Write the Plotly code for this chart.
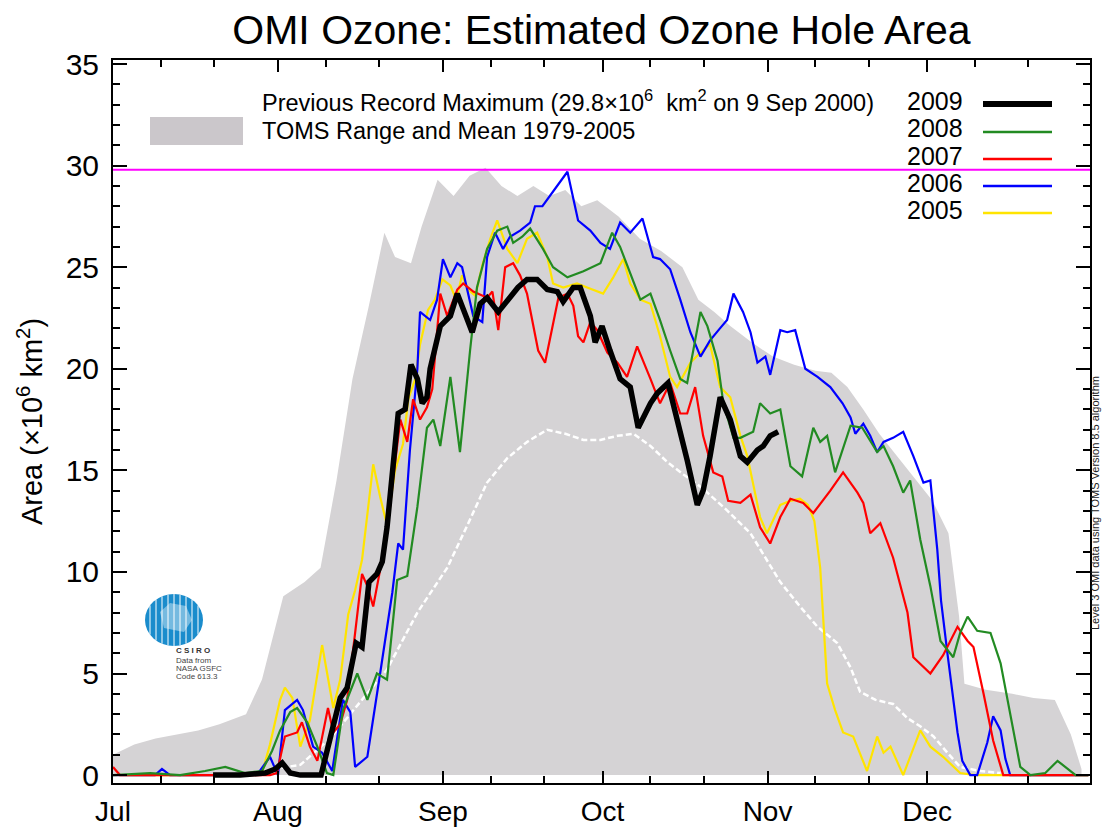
import math
import plotly.graph_objects as go

# ---------------- data (x = days since 1 July, y = area in 10^6 km^2) ----------------
MONTH_LABELS = ["Jul", "Aug", "Sep", "Oct", "Nov", "Dec"]
MONTH_START_DAYS = [0, 31, 62, 92, 123, 153]
MINOR_TICK_DAYS = [9, 19, 40, 50, 71, 81, 101, 111, 132, 142, 162, 172]
RECORD_MAX = 29.8

TOMS_MAX = [(0, 1.0), (4, 1.5), (8, 1.8), (12, 2.0), (16, 2.2), (20, 2.5), (25, 3.0), (28, 4.7),
            (32, 8.8), (36, 9.5), (39, 10.2), (42, 14.5), (45, 19.5), (48, 23.0), (51, 26.7),
            (53, 25.5), (56, 25.2), (58, 27.0), (61, 29.3), (64, 28.5), (67, 29.5), (70, 29.9),
            (73, 29.0), (76, 28.5), (79, 29.0), (82, 28.5), (85, 28.8), (88, 28.0), (91, 28.3),
            (95, 27.5), (99, 26.4), (103, 25.8), (107, 25.0), (110, 23.4), (113, 22.8),
            (116, 22.1), (120, 21.3), (124, 20.6), (128, 20.2), (132, 19.9), (135, 19.8),
            (138, 19.1), (141, 18.0), (144, 16.8), (147, 15.8), (150, 14.8), (154, 13.5),
            (157, 11.9), (159, 7.8), (160, 4.5), (164, 4.2), (169, 4.0), (173, 3.8),
            (177, 3.7), (180, 2.0), (182, 0.3)]

TOMS_MEAN = [(30, 0.3), (35.2, 0.5), (40.8, 1.8), (46.1, 3.5), (51.5, 5.2), (57.2, 8.0),
             (62.8, 10.2), (66.6, 12.3), (70.3, 14.4), (74.1, 15.6), (77.8, 16.4), (81.6, 17.0),
             (85.0, 16.8), (88.4, 16.5), (91.6, 16.5), (94.8, 16.7), (97.8, 16.8), (101.0, 16.2),
             (104.2, 15.4), (107.2, 14.8), (110.4, 14.2), (115.1, 13.1), (119.8, 11.9),
             (122.6, 10.7), (125.4, 9.5), (129.1, 8.3), (132.4, 7.3), (136.1, 6.5), (138.6, 5.3),
             (140.4, 4.1), (143.3, 3.7), (146.6, 3.5), (149.3, 2.8), (151.7, 2.4), (154.2, 1.9),
             (156.8, 1.1), (159.2, 0.4), (163.0, 0.2), (166.8, 0.1)]

Y2005 = [(0, 0), (16.4, 0), (24.8, 0), (28.0, 0.1), (29.5, 1.5), (31.4, 3.7), (32.3, 4.3),
         (33.7, 3.8), (35.2, 1.4), (37.0, 2.7), (39.3, 6.4), (41.4, 3.3), (42.7, 4.7), (44.2, 7.9),
         (45.5, 9.1), (46.8, 10.6), (47.9, 13.0), (48.9, 15.3), (50.2, 13.7), (51.5, 12.3),
         (53.0, 15.0), (54.5, 16.3), (55.5, 18.5), (56.8, 19.5), (57.7, 21.2), (59.2, 22.9),
         (60.5, 23.4), (61.9, 24.4), (63.4, 24.1), (64.5, 23.4), (65.6, 24.6), (66.7, 23.9),
         (68.1, 23.6), (69.4, 25.1), (70.9, 26.4), (72.2, 27.3), (74.1, 25.9), (76.0, 25.2),
         (77.8, 26.4), (79.7, 26.7), (81.6, 25.5), (82.7, 24.2), (84.6, 24.0), (87.2, 24.2),
         (89.1, 24.0), (92.1, 23.7), (94.0, 24.5), (95.9, 25.4), (97.2, 24.2), (99.1, 23.4),
         (101.0, 23.2), (102.8, 21.6), (104.7, 19.6), (106.0, 19.1), (108.5, 20.3),
         (110.4, 20.8), (112.2, 21.2), (114.1, 19.1), (116.0, 18.6), (117.9, 16.7),
         (119.2, 15.7), (121.6, 12.7), (122.9, 11.9), (125.4, 13.3), (127.3, 13.5),
         (129.1, 13.6), (130.6, 13.3), (131.8, 12.5), (132.9, 10.2), (134.2, 4.5), (135.7, 3.2),
         (137.2, 2.1), (139.1, 1.9), (141.7, 0.2), (143.6, 1.9), (144.8, 1.1), (146.1, 1.4),
         (148.5, 0.0), (151.7, 2.2), (153.6, 1.4), (156.0, 0.9), (159.2, 0.1), (162.0, 0),
         (183.3, 0)]

Y2006 = [(0, 0), (7.9, 0), (9.2, 0.3), (10.7, 0), (25.4, 0), (27.3, 0.1), (29.5, 0.9), (31.0, 0),
         (32.3, 3.2), (34.6, 3.7), (35.7, 3.2), (37.6, 1.4), (39.3, 1.1), (41.2, 0.2), (43.2, 3.7),
         (44.6, 3.1), (45.5, 0.4), (47.8, 0.9), (50.2, 5.0), (52.5, 9.0), (53.6, 11.4),
         (54.5, 11.1), (55.8, 16.0), (57.2, 20.0), (57.7, 22.8), (59.6, 22.4), (60.9, 23.4),
         (62.0, 25.4), (63.4, 24.5), (64.7, 25.2), (65.6, 25.0), (66.6, 23.9), (67.7, 22.6),
         (69.4, 22.3), (70.3, 25.5), (71.8, 26.7), (73.3, 25.9), (74.6, 26.5), (76.5, 26.8),
         (78.4, 27.2), (79.3, 28.0), (80.7, 28.0), (82.7, 28.7), (85.4, 29.7), (87.4, 27.3),
         (89.7, 26.8), (91.6, 26.2), (93.4, 25.9), (95.3, 27.2), (97.2, 26.7), (99.5, 27.4),
         (101.5, 25.5), (102.8, 25.4), (104.7, 24.9), (106.6, 23.4), (108.5, 21.8),
         (110.4, 20.6), (112.2, 21.4), (114.1, 22.0), (115.4, 22.4), (116.6, 23.7),
         (118.4, 22.8), (119.8, 21.8), (121.1, 20.3), (122.6, 20.6), (123.5, 19.7),
         (125.4, 21.9), (126.7, 21.8), (128.2, 21.9), (130.1, 20.0), (132.4, 19.6),
         (134.8, 19.1), (137.1, 18.3), (138.6, 17.6), (139.5, 16.8), (141.0, 17.3),
         (142.3, 16.7), (143.6, 15.9), (144.8, 16.4), (146.6, 16.6), (148.5, 16.9),
         (150.4, 15.7), (152.3, 14.4), (153.6, 14.5), (154.9, 11.1), (155.6, 8.6), (156.8, 6.0),
         (157.9, 3.7), (158.7, 2.1), (159.6, 0.7), (161.1, 0), (162.4, 0), (164.3, 1.6),
         (165.4, 2.9), (166.8, 2.2), (167.7, 0.8), (168.6, 0), (183.3, 0)]

Y2007 = [(0, 0.4), (1.3, 0), (16.4, 0), (29.5, 0), (30.8, 0.1), (32.3, 1.9), (34.6, 2.1),
         (35.5, 2.6), (37.0, 1.4), (38.4, 0.7), (40.4, 3.3), (41.4, 2.1), (42.7, 2.5), (44.0, 3.7),
         (45.5, 7.0), (46.8, 9.9), (47.8, 9.3), (48.9, 8.3), (50.2, 10.1), (51.5, 11.9),
         (52.6, 14.5), (54.0, 17.5), (55.3, 16.4), (56.4, 18.5), (57.7, 17.5), (59.0, 18.1),
         (60.0, 19.0), (61.5, 23.7), (62.8, 22.6), (64.7, 23.9), (65.8, 24.2), (67.7, 23.8),
         (70.3, 23.5), (71.3, 23.8), (72.4, 21.9), (73.7, 25.0), (75.2, 25.2), (76.5, 24.6),
         (77.8, 23.7), (78.8, 22.3), (79.9, 20.9), (81.2, 20.3), (82.5, 21.9), (83.7, 23.5),
         (85.4, 23.7), (86.5, 23.1), (87.4, 21.6), (88.4, 21.3), (89.7, 22.3), (91.0, 21.9),
         (92.9, 20.8), (94.8, 20.3), (96.6, 19.6), (98.5, 21.1), (101.0, 19.5), (102.8, 18.3),
         (104.7, 19.3), (106.6, 17.8), (107.9, 17.8), (109.4, 19.1), (110.9, 16.7),
         (112.8, 14.9), (114.5, 14.7), (115.6, 13.5), (117.9, 13.4), (119.8, 13.8),
         (121.6, 12.2), (123.5, 11.4), (125.4, 12.7), (127.3, 13.6), (129.7, 13.4),
         (131.6, 12.9), (134.8, 14.0), (137.2, 14.9), (139.9, 13.9), (141.0, 13.4),
         (142.3, 11.9), (144.2, 12.4), (146.6, 10.7), (149.3, 8.0), (150.4, 5.8), (153.6, 5.0),
         (156.0, 5.9), (158.7, 7.3), (160.6, 6.6), (161.7, 6.3), (163.6, 4.0), (165.4, 1.7),
         (167.3, 0), (183.3, 0)]

Y2008 = [(0, 0), (7.0, 0.1), (12.6, 0), (17.3, 0.2), (21.1, 0.4), (24.8, 0.1), (28.0, 0.2),
         (29.9, 1.2), (31.4, 2.2), (33.3, 3.1), (34.6, 3.3), (36.5, 2.6), (38.4, 1.4), (40.2, 0.1),
         (41.4, 0), (43.2, 3.2), (45.9, 5.0), (47.8, 3.7), (49.6, 5.0), (51.5, 4.7), (53.4, 9.6),
         (55.3, 9.8), (57.2, 13.2), (59.0, 17.1), (60.2, 17.5), (61.5, 16.2), (63.4, 19.6),
         (65.2, 15.9), (67.1, 20.9), (68.4, 24.0), (70.3, 25.9), (72.2, 26.8), (74.1, 27.0),
         (75.2, 26.2), (76.9, 26.5), (78.4, 26.9), (80.8, 25.9), (82.7, 25.0), (85.4, 24.5),
         (88.4, 24.8), (91.6, 25.2), (93.8, 26.7), (95.3, 26.0), (97.2, 24.7), (99.1, 23.4),
         (101.0, 23.7), (102.8, 22.4), (104.7, 20.9), (106.6, 19.5), (107.9, 19.3),
         (110.4, 22.8), (111.7, 22.1), (113.6, 20.4), (114.7, 18.3), (116.6, 16.6),
         (117.9, 16.6), (120.3, 16.9), (121.6, 18.3), (123.5, 17.8), (125.4, 18.0),
         (127.3, 15.2), (129.5, 14.7), (131.6, 17.1), (132.9, 16.4), (134.2, 16.7),
         (135.7, 14.9), (138.6, 17.2), (140.8, 17.1), (143.6, 15.9), (144.8, 16.2),
         (146.6, 15.2), (148.5, 13.9), (149.8, 14.5), (151.7, 11.6), (153.6, 9.3), (155.5, 6.6),
         (157.9, 5.8), (159.2, 7.0), (160.6, 7.8), (162.4, 7.1), (164.9, 7.0), (166.8, 5.5),
         (168.6, 3.1), (170.5, 0.4), (172.4, 0), (175.2, 0.1), (177.5, 0.7), (179.0, 0.4),
         (180.9, 0), (183.3, 0)]

Y2009 = [(18.8, 0), (23.9, 0), (28.6, 0.1), (30.5, 0.3), (31.8, 0.6), (33.3, 0.1), (35.2, 0),
         (39.1, 0), (40.8, 1.8), (42.7, 3.8), (44.0, 4.3), (45.7, 6.5), (46.8, 6.3), (48.1, 9.5),
         (49.6, 9.9), (50.6, 10.5), (51.5, 12.2), (52.5, 15.0), (53.6, 17.8), (54.9, 18.0),
         (56.0, 20.2), (57.2, 19.5), (58.1, 18.3), (59.0, 18.6), (59.6, 20.0), (61.5, 22.1),
         (63.4, 22.6), (64.7, 23.7), (65.8, 23.0), (67.5, 21.8), (69.0, 23.2), (70.3, 23.5),
         (72.4, 22.8), (74.6, 23.5), (76.1, 24.0), (77.8, 24.4), (79.7, 24.4), (81.6, 23.9),
         (83.5, 23.8), (84.6, 23.3), (86.5, 24.0), (87.8, 24.0), (89.7, 22.6), (90.6, 21.3),
         (91.9, 22.1), (93.4, 20.9), (95.3, 19.5), (97.2, 19.1), (98.7, 17.1), (101.0, 18.3),
         (102.3, 18.8), (104.3, 19.3), (106.0, 17.6), (107.9, 15.5), (109.8, 13.3),
         (110.9, 14.0), (112.2, 15.7), (114.1, 18.6), (116.0, 17.5), (117.9, 15.7),
         (119.2, 15.4), (121.1, 16.0), (122.2, 16.2), (123.5, 16.7), (125.0, 16.9)]

YEARS = ["2009", "2008", "2007", "2006", "2005"]
YEAR_DATA = {"2005": Y2005, "2006": Y2006, "2007": Y2007, "2008": Y2008, "2009": Y2009}
YEAR_COLORS = {"2009": "#000000", "2008": "#228B22", "2007": "#FF0000",
               "2006": "#0000FF", "2005": "#FFE400"}
YEAR_WIDTHS = {"2009": 5.5, "2008": 2.2, "2007": 2.2, "2006": 2.2, "2005": 2.2}

TITLE = "OMI Ozone: Estimated Ozone Hole Area"
Y_TITLE = "Area (×10<sup>6</sup> km<sup>2</sup>)"
LEGEND_RECORD = "Previous Record Maximum (29.8×10<sup>6</sup>  km<sup>2</sup> on 9 Sep 2000)"
LEGEND_TOMS = "TOMS Range and Mean 1979-2005"
SIDE_NOTE = "Level 3 OMI data using TOMS Version 8.5 algorithm"
FONT = "Liberation Sans, Arial, Helvetica, sans-serif"

# ---------------- layout geometry (screen pixels) ----------------
# the page body has an 8px margin, so the figure is drawn 8px smaller and offset
OFF = 8
W, H = 1115, 832
FIG_W, FIG_H = W - OFF, H - OFF
L, R, T, B = 113, 1090, 60, 783


def px(x):
    return (x - L) / (R - L)


def py(y):
    return (B - y) / (B - T)


def xs(pairs):
    return [p[0] for p in pairs]


def ys(pairs):
    return [p[1] for p in pairs]


fig = go.Figure()

# TOMS range (max envelope, filled to zero) and mean
fig.add_trace(go.Scatter(x=xs(TOMS_MAX), y=ys(TOMS_MAX), mode="lines", fill="tozeroy",
                         fillcolor="#d5d3d5", line=dict(width=0, color="#d5d3d5"),
                         showlegend=False, hoverinfo="skip"))
fig.add_trace(go.Scatter(x=xs(TOMS_MEAN), y=ys(TOMS_MEAN), mode="lines",
                         line=dict(color="white", width=2.5, dash="6px,3px"),
                         showlegend=False))

# previous record maximum
fig.add_hline(y=RECORD_MAX, line=dict(color="#FF00FF", width=2))

for yr in ["2005", "2006", "2007", "2008", "2009"]:
    d = YEAR_DATA[yr]
    fig.add_trace(go.Scatter(x=xs(d), y=ys(d), mode="lines", name=yr,
                             line=dict(color=YEAR_COLORS[yr], width=YEAR_WIDTHS[yr]),
                             showlegend=False))

shapes = []
annotations = []

# left legend
shapes.append(dict(type="line", xref="paper", yref="paper", x0=px(150), x1=px(243),
                   y0=py(101), y1=py(101), line=dict(color="#FF00FF", width=2)))
shapes.append(dict(type="rect", xref="paper", yref="paper", x0=px(150), x1=px(243),
                   y0=py(145), y1=py(117), fillcolor="#cbc7cb", line=dict(width=0)))
annotations.append(dict(xref="paper", yref="paper", x=px(260), y=py(101), xanchor="left",
                        yanchor="middle", text=LEGEND_RECORD, showarrow=False,
                        font=dict(family=FONT, size=23.5, color="black")))
annotations.append(dict(xref="paper", yref="paper", x=px(260), y=py(131), xanchor="left",
                        yanchor="middle", text=LEGEND_TOMS, showarrow=False,
                        font=dict(family=FONT, size=23.5, color="black")))

# year legend
text_y = [101, 128, 156, 183, 210]
line_y = [104, 132, 159, 186, 213]
for yr, ty, ly in zip(YEARS, text_y, line_y):
    annotations.append(dict(xref="paper", yref="paper", x=px(965), y=py(ty), xanchor="right",
                            yanchor="middle", text=yr, showarrow=False,
                            font=dict(family=FONT, size=25, color="black")))
    shapes.append(dict(type="line", xref="paper", yref="paper", x0=px(983), x1=px(1052),
                       y0=py(ly), y1=py(ly),
                       line=dict(color=YEAR_COLORS[yr], width=YEAR_WIDTHS[yr] + 0.3)))

# CSIRO logo
cx, cy, rx, ry = 174, 620, 29, 26
shapes.append(dict(type="circle", xref="paper", yref="paper", x0=px(cx - rx), x1=px(cx + rx),
                   y0=py(cy + ry), y1=py(cy - ry), fillcolor="#1a8ccc", line=dict(width=0)))
for lx in range(cx - 24, cx + 25, 6):
    hh = ry * math.sqrt(max(0.0, 1 - ((lx - cx) / rx) ** 2))
    shapes.append(dict(type="line", xref="paper", yref="paper", x0=px(lx), x1=px(lx),
                       y0=py(cy + hh), y1=py(cy - hh), line=dict(color="white", width=1)))
shapes.append(dict(type="path", xref="paper", yref="paper",
                   path="M {} {} L {} {} L {} {} L {} {} L {} {} L {} {} Z".format(
                       px(160), py(612), px(170), py(603), px(186), py(606), px(192), py(620),
                       px(184), py(632), px(164), py(628)),
                   fillcolor="rgba(255,255,255,0.4)", line=dict(width=0)))
annotations.append(dict(xref="paper", yref="paper", x=px(174), y=py(657), text="<b>C S I R O</b>",
                        showarrow=False, font=dict(family=FONT, size=8, color="#333333")))
for i, t in enumerate(["Data from", "NASA GSFC", "Code 613.3"]):
    annotations.append(dict(xref="paper", yref="paper", x=px(174), y=py(667 + 8 * i), text=t,
                            showarrow=False, font=dict(family=FONT, size=8, color="#444444")))

# side note
annotations.append(dict(xref="paper", yref="paper", x=px(1103), y=py(632), text=SIDE_NOTE,
                        textangle=-90, showarrow=False,
                        font=dict(family=FONT, size=11, color="#222222")))

axis_common = dict(showline=True, linecolor="black", linewidth=2, mirror="allticks",
                   ticks="inside", tickwidth=2, tickcolor="black", showgrid=False,
                   zeroline=False, automargin=False)

fig.update_layout(
    width=FIG_W, height=FIG_H, autosize=False,
    margin=dict(l=L - OFF, r=FIG_W - (R - OFF), t=T - OFF, b=FIG_H - (B - OFF), pad=0),
    paper_bgcolor="white", plot_bgcolor="white",
    title=dict(text=TITLE, x=0.5, xref="paper", xanchor="center", y=1 - (30 - OFF) / FIG_H,
               yref="container", yanchor="middle",
               font=dict(family=FONT, size=41, color="black")),
    xaxis=dict(range=[0, 183.6], tickvals=MONTH_START_DAYS, ticktext=MONTH_LABELS,
               ticklen=12, ticklabelstandoff=2,
               tickfont=dict(family=FONT, size=28, color="black"),
               minor=dict(tickvals=MINOR_TICK_DAYS, ticks="inside", ticklen=7, tickwidth=2,
                          tickcolor="black"),
               **axis_common),
    yaxis=dict(range=[-0.39, 35.2], tickvals=[0, 5, 10, 15, 20, 25, 30, 35], ticklen=14,
               ticklabelstandoff=6,
               tickfont=dict(family=FONT, size=30, color="black"),
               minor=dict(dtick=1, ticks="inside", ticklen=7, tickwidth=2, tickcolor="black"),
               title=dict(text=Y_TITLE, standoff=14,
                          font=dict(family=FONT, size=29, color="black")),
               **axis_common),
    shapes=shapes, annotations=annotations, showlegend=False,
)

fig.write_html("out.html")
